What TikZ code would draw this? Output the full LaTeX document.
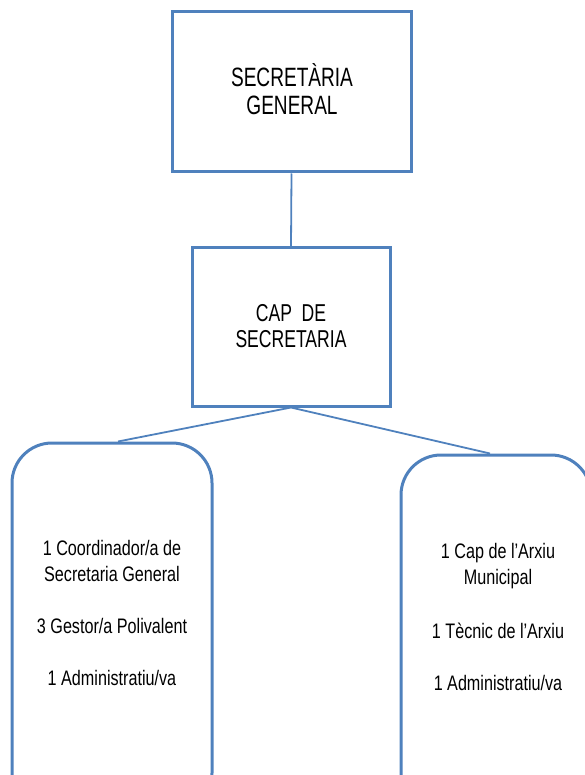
\documentclass[tikz,border=0pt]{standalone}
\usepackage{fontspec}
\setmainfont{Liberation Sans}[FakeStretch=0.72]
\newfontfamily\narrowf{Liberation Sans}[FakeStretch=0.77]
\definecolor{ob}{HTML}{4F81BD}
\begin{document}
\begin{tikzpicture}[x=1pt,y=-1pt,
  box/.style={draw=ob,line width=3pt,rectangle,inner sep=0pt,fill=white},
  rbox/.style={box,rounded corners=40pt},
  conn/.style={draw=ob,line width=1.8pt},
  txt/.style={align=center,inner sep=0pt,text=black}]
\useasboundingbox (0,0) rectangle (585,775);
\clip (0,0) rectangle (585,775);
\node[box,minimum width=239pt,minimum height=160pt] (sg) at (291.5,92) {};
\node[box,minimum width=198pt,minimum height=158pt] (cap) at (291,327) {};
\node[rbox,minimum width=200pt,minimum height=370pt] (lb) at (112,628) {};
\node[rbox,minimum width=190pt,minimum height=360pt] (rb) at (496,635) {};
\draw[conn] (sg.south) -- (cap.north);
\draw[conn] (cap.south) -- ([xshift=6pt]lb.north);
\draw[conn] (cap.south) -- ([xshift=-6pt]rb.north);
\node[txt,font=\fontsize{26.5}{28}\selectfont] (sgt) at (292,89) {SECRETÀRIA\\GENERAL};
\node[txt,font=\fontsize{24.4}{26}\selectfont] (capt) at (291,326) {CAP~ DE\\SECRETARIA};
\node[txt,font=\narrowf\fontsize{21}{26}\selectfont] (lbt) at (112,613) {1 Coordinador/a de\\Secretaria General\\[26pt]3 Gestor/a Polivalent\\[26pt]1 Administratiu/va};
\node[txt,font=\narrowf\fontsize{21}{26}\selectfont] (rbt) at (498,617) {1 Cap de l’Arxiu\\Municipal\\[28pt]1 Tècnic de l’Arxiu\\[26pt]1 Administratiu/va};
\end{tikzpicture}
\end{document}
